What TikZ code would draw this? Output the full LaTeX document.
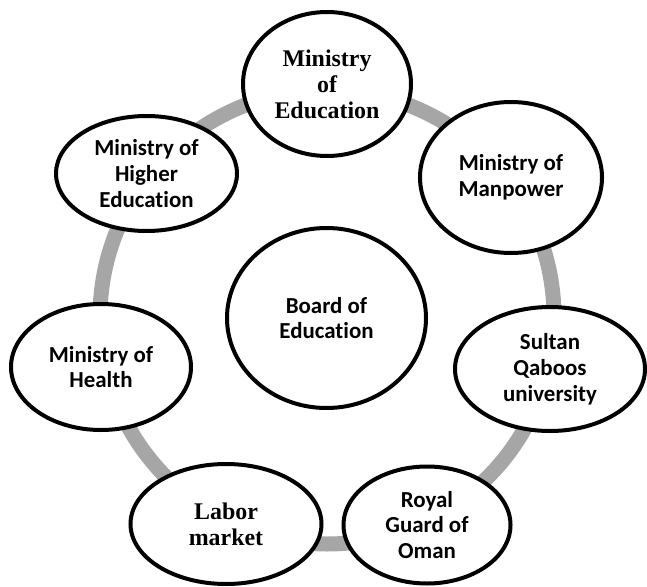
\documentclass[tikz,border=0pt]{standalone}
\usepackage{fontspec}
\setmainfont{Carlito}[Ligatures=NoCommon]
\newfontfamily\cambriaalt{Liberation Serif}
\usetikzlibrary{shapes.geometric}
\definecolor{ringgray}{RGB}{166,166,166}
\begin{document}
\begin{tikzpicture}[x=1bp,y=-1bp,
  oval/.style={ellipse, draw=black, line width=4bp, fill=white, inner sep=0pt, align=center,
    font=\bfseries\fontsize{23}{26}\selectfont},
  serifoval/.style={oval, font=\cambriaalt\bfseries\fontsize{24}{26}\selectfont},
  ring/.style={draw=ringgray, line width=15bp}
]
\useasboundingbox (0,0) rectangle (647,587);
\draw[ring] (327,317) circle[radius=227];
\node[serifoval, minimum width=168bp, minimum height=144bp] (moe) at (327,84) {Ministry\\of\\Education};
\node[oval, minimum width=182bp, minimum height=151bp] (man) at (511,177.5) {Ministry of\\Manpower};
\node[oval, minimum width=190bp, minimum height=124bp] (squ) at (550,369) {Sultan\\Qaboos\\university};
\node[oval, minimum width=167bp, minimum height=117bp] (rgo) at (427,525) {Royal\\Guard of\\Oman};
\node[serifoval, minimum width=191bp, minimum height=120bp] (lab) at (226,524) {Labor\\market};
\node[oval, minimum width=180bp, minimum height=126bp] (moh) at (101,367) {Ministry of\\Health};
\node[oval, minimum width=181bp, minimum height=115bp] (mhe) at (146.5,173.5) {Ministry of\\Higher\\Education};
\node[oval, minimum width=199bp, minimum height=180bp] (boe) at (326.5,318) {Board of\\Education};
\end{tikzpicture}
\end{document}
